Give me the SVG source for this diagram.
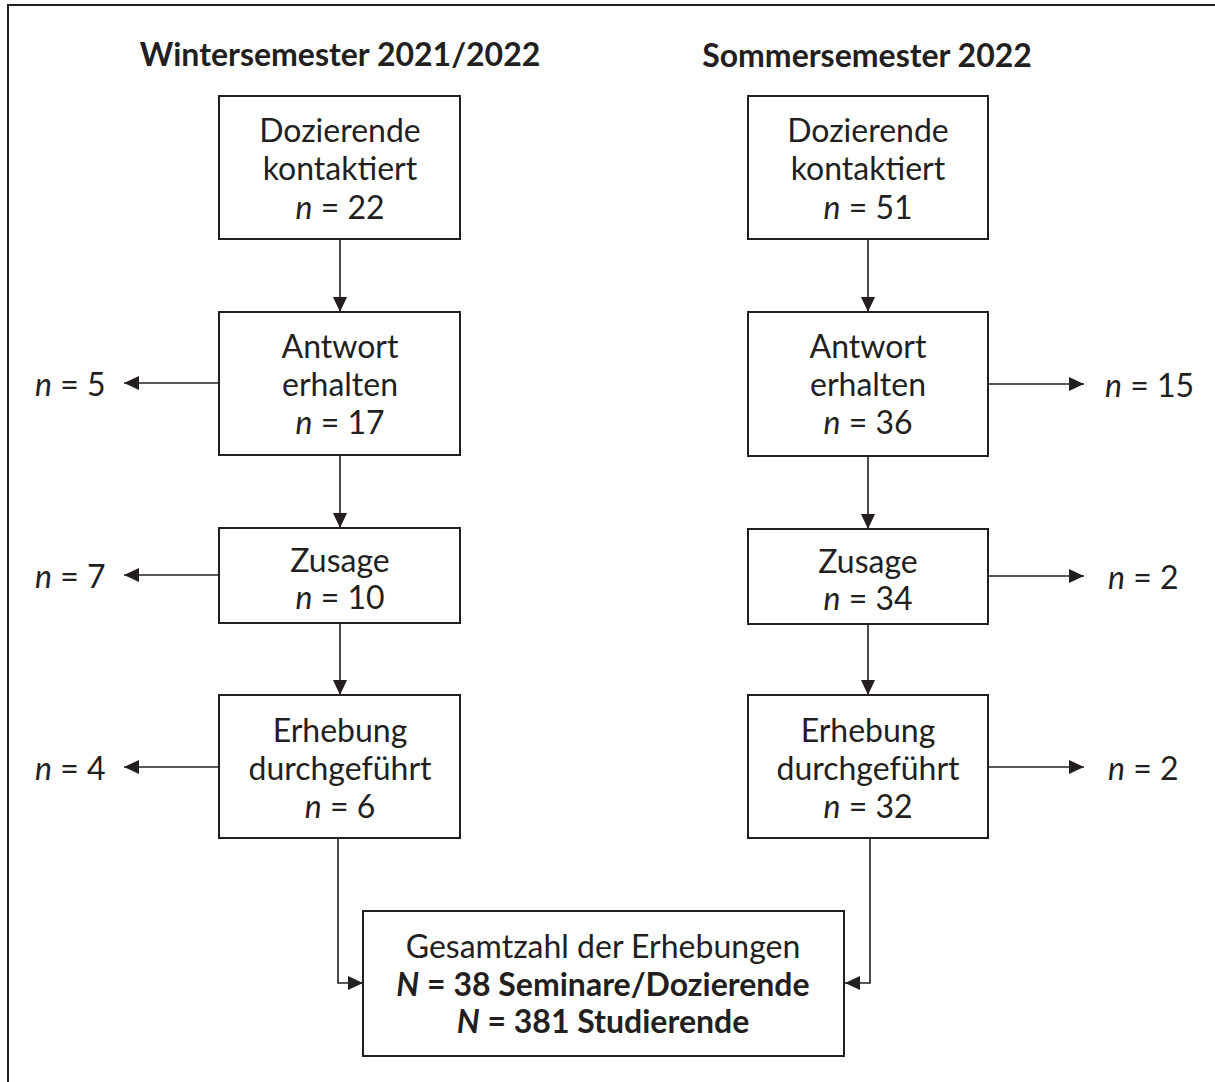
<svg xmlns="http://www.w3.org/2000/svg" width="1215" height="1082" viewBox="0 0 1215 1082">
  <defs>
    <style>
      text { font-family: Lato, "Open Sans", "Liberation Sans", sans-serif; fill: #231f20; }
      .title { font-size: 32px; font-weight: bold; text-anchor: middle; }
      .lbl { font-size: 32px; text-anchor: middle; }
      .side { font-size: 32px; }
      .b { font-weight: bold; }
      .i { font-style: italic; }
      .box { fill: #ffffff; stroke: #231f20; stroke-width: 2; }
      .edge { fill: none; stroke: #231f20; stroke-width: 1.6; marker-end: url(#arrow); }
      .frame { fill: none; stroke: #231f20; stroke-width: 2; }
    </style>
    <marker id="arrow" markerUnits="userSpaceOnUse" markerWidth="16" markerHeight="14" refX="15" refY="7" orient="auto">
      <path d="M0,0 L15,7 L0,14 z" fill="#231f20"/>
    </marker>
  </defs>

  <rect width="1215" height="1082" fill="#ffffff"/>
  <!-- outer frame (only left and top edges fall inside the canvas) -->
  <rect class="frame" x="8" y="5" width="1230" height="1100"/>

  <!-- column headings -->
  <text class="title" x="340" y="66">Wintersemester 2021/2022</text>
  <text class="title" x="867" y="67">Sommersemester 2022</text>

  <!-- connectors -->
  <g id="connectors">
    <line class="edge" x1="340" y1="239" x2="340" y2="312"/>
    <line class="edge" x1="340" y1="455" x2="340" y2="528"/>
    <line class="edge" x1="340" y1="623" x2="340" y2="695"/>
    <line class="edge" x1="868" y1="239" x2="868" y2="312"/>
    <line class="edge" x1="868" y1="456" x2="868" y2="529"/>
    <line class="edge" x1="868" y1="624" x2="868" y2="695"/>

    <line class="edge" x1="219" y1="383" x2="124" y2="383"/>
    <line class="edge" x1="219" y1="575" x2="124" y2="575"/>
    <line class="edge" x1="219" y1="767" x2="124" y2="767"/>
    <line class="edge" x1="988" y1="384" x2="1084" y2="384"/>
    <line class="edge" x1="988" y1="576" x2="1084" y2="576"/>
    <line class="edge" x1="988" y1="767" x2="1084" y2="767"/>

    <polyline class="edge" points="338,838 338,983 363,983"/>
    <polyline class="edge" points="870,838 870,983 845,983"/>
  </g>

  <!-- drop-out counts -->
  <g id="dropouts">
    <text class="side" x="35" y="396"><tspan class="i">n</tspan> = 5</text>
    <text class="side" x="35" y="588"><tspan class="i">n</tspan> = 7</text>
    <text class="side" x="35" y="780"><tspan class="i">n</tspan> = 4</text>
    <text class="side" x="1105" y="397"><tspan class="i">n</tspan> = 15</text>
    <text class="side" x="1108" y="589"><tspan class="i">n</tspan> = 2</text>
    <text class="side" x="1108" y="780"><tspan class="i">n</tspan> = 2</text>
  </g>

  <!-- Wintersemester column -->
  <g id="ws-contacted">
    <rect class="box" x="219" y="96" width="241" height="143"/>
    <text class="lbl" x="340" y="142">Dozierende</text>
    <text class="lbl" x="340" y="180">kontaktiert</text>
    <text class="lbl" x="340" y="219"><tspan class="i">n</tspan> = 22</text>
  </g>
  <g id="ws-answered">
    <rect class="box" x="219" y="312" width="241" height="143"/>
    <text class="lbl" x="340" y="358">Antwort</text>
    <text class="lbl" x="340" y="396">erhalten</text>
    <text class="lbl" x="340" y="434"><tspan class="i">n</tspan> = 17</text>
  </g>
  <g id="ws-accepted">
    <rect class="box" x="219" y="528" width="241" height="95"/>
    <text class="lbl" x="340" y="572">Zusage</text>
    <text class="lbl" x="340" y="609"><tspan class="i">n</tspan> = 10</text>
  </g>
  <g id="ws-conducted">
    <rect class="box" x="219" y="695" width="241" height="143"/>
    <text class="lbl" x="340" y="742">Erhebung</text>
    <text class="lbl" x="340" y="780">durchgeführt</text>
    <text class="lbl" x="340" y="818"><tspan class="i">n</tspan> = 6</text>
  </g>

  <!-- Sommersemester column -->
  <g id="ss-contacted">
    <rect class="box" x="748" y="96" width="240" height="143"/>
    <text class="lbl" x="868" y="142">Dozierende</text>
    <text class="lbl" x="868" y="180">kontaktiert</text>
    <text class="lbl" x="868" y="219"><tspan class="i">n</tspan> = 51</text>
  </g>
  <g id="ss-answered">
    <rect class="box" x="748" y="312" width="240" height="144"/>
    <text class="lbl" x="868" y="358">Antwort</text>
    <text class="lbl" x="868" y="396">erhalten</text>
    <text class="lbl" x="868" y="434"><tspan class="i">n</tspan> = 36</text>
  </g>
  <g id="ss-accepted">
    <rect class="box" x="748" y="529" width="240" height="95"/>
    <text class="lbl" x="868" y="573">Zusage</text>
    <text class="lbl" x="868" y="610"><tspan class="i">n</tspan> = 34</text>
  </g>
  <g id="ss-conducted">
    <rect class="box" x="748" y="695" width="240" height="143"/>
    <text class="lbl" x="868" y="742">Erhebung</text>
    <text class="lbl" x="868" y="780">durchgeführt</text>
    <text class="lbl" x="868" y="818"><tspan class="i">n</tspan> = 32</text>
  </g>

  <!-- total -->
  <g id="total">
    <rect class="box" x="363" y="911" width="481" height="145"/>
    <text class="lbl" x="603" y="958">Gesamtzahl der Erhebungen</text>
    <text class="lbl b" x="603" y="996"><tspan class="i">N</tspan> = 38 Seminare/Dozierende</text>
    <text class="lbl b" x="603" y="1033"><tspan class="i">N</tspan> = 381 Studierende</text>
  </g>
</svg>
